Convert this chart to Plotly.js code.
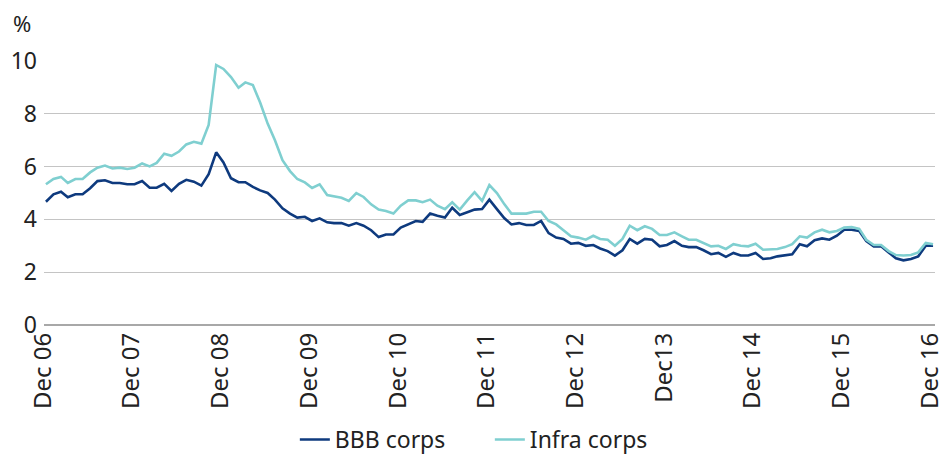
<!DOCTYPE html>
<html>
<head>
<meta charset="utf-8">
<script src="https://cdn.plot.ly/plotly-3.0.1.min.js"></script>
<style>html,body{margin:0;padding:0;background:#fff;}#chart{width:942px;height:461px;}</style>
</head>
<body>
<div id="chart"></div>
<script>
// Monthly values, Dec 2006 .. Dec 2016 (%)
var bbbCorps = [
  4.67,4.95,5.05,4.84,4.95,4.95,5.18,5.45,5.48,5.38,
  5.38,5.33,5.33,5.45,5.20,5.20,5.35,5.08,5.35,5.50,
  5.43,5.28,5.71,6.54,6.16,5.56,5.41,5.41,5.23,5.10,
  5.00,4.75,4.42,4.22,4.07,4.10,3.94,4.04,
  3.89,3.86,3.86,3.76,3.86,3.76,3.59,3.33,3.43,3.43,
  3.69,3.81,3.94,3.91,4.22,4.14,4.07,4.44,4.17,4.27,
  4.37,4.39,4.75,4.39,4.04,3.81,3.86,3.79,3.79,3.94,
  3.48,3.31,3.26,3.08,3.11,3.00,3.03,2.90,2.80,2.63,2.83,
  3.26,3.08,3.26,3.23,2.98,3.03,3.18,3.00,2.95,2.95,
  2.83,2.68,2.73,2.58,2.73,2.63,2.63,2.73,2.50,2.53,
  2.60,2.63,2.68,3.06,2.98,3.21,3.28,3.23,3.38,3.61,
  3.61,3.56,3.18,2.98,2.98,2.75,2.53,2.45,2.50,2.60,
  3.00,3.00
];
var infraCorps = [
  5.33,5.53,5.61,5.38,5.53,5.53,5.78,5.96,6.04,5.93,
  5.96,5.91,5.96,6.12,6.01,6.14,6.49,6.41,6.57,6.84,
  6.94,6.87,7.58,9.85,9.70,9.39,8.99,9.19,9.09,8.43,
  7.63,7.00,6.24,5.83,5.53,5.40,5.19,5.33,
  4.92,4.87,4.82,4.70,5.00,4.85,4.57,4.37,4.32,4.22,
  4.52,4.72,4.72,4.65,4.75,4.52,4.39,4.65,4.37,4.72,
  5.03,4.70,5.30,5.00,4.57,4.22,4.22,4.22,4.29,4.29,
  3.94,3.81,3.59,3.36,3.31,3.23,3.38,3.26,3.23,3.00,3.26,
  3.76,3.59,3.74,3.64,3.41,3.41,3.51,3.36,3.23,3.23,
  3.11,2.98,3.00,2.88,3.06,3.00,2.98,3.08,2.85,2.88,
  2.88,2.95,3.06,3.36,3.31,3.51,3.61,3.51,3.56,3.69,
  3.71,3.64,3.23,3.03,3.03,2.80,2.65,2.63,2.65,2.75,
  3.11,3.06
];
var tickDates = ['2006-12-01','2007-12-01','2008-12-01','2009-12-01','2010-12-01','2011-12-01','2012-12-01','2013-12-01','2014-12-01','2015-12-01','2016-12-01'];
var tickLabels = ['Dec 06','Dec 07','Dec 08','Dec 09','Dec 10','Dec 11','Dec 12','Dec13','Dec 14','Dec 15','Dec 16'];
var yTicks = [0,2,4,6,8,10];

var dates = [];
for (var i = 0; i < bbbCorps.length; i++) {
  var y = 2006 + Math.floor((11 + i) / 12);
  var m = (11 + i) % 12 + 1;
  dates.push(y + '-' + (m < 10 ? '0' + m : m) + '-01');
}

var traces = [
  {x: dates, y: bbbCorps, type: 'scatter', mode: 'lines', name: 'BBB corps',
   line: {color: '#0e3a7e', width: 2.6}},
  {x: dates, y: infraCorps, type: 'scatter', mode: 'lines', name: 'Infra corps',
   line: {color: '#7fcfd0', width: 2.6}}
];

var layout = {
  width: 942, height: 461,
  margin: {l: 44, r: 7, t: 61, b: 136},
  paper_bgcolor: '#ffffff', plot_bgcolor: '#ffffff',
  font: {family: '"Noto Sans", "Open Sans", sans-serif', size: 24, color: '#222'},
  showlegend: true,
  legend: {orientation: 'h', xref: 'container', x: 0.52, xanchor: 'center',
           yref: 'container', y: -0.012, yanchor: 'bottom',
           entrywidth: 150, entrywidthmode: 'pixels',
           font: {size: 23, color: '#222'}},
  xaxis: {type: 'date', range: ['2006-11-23', '2016-12-09'],
          tickmode: 'array', tickvals: tickDates, ticktext: tickLabels,
          tickangle: -90, showgrid: false, zeroline: false, showline: false,
          ticklabeloverflow: 'allow', ticklabelstandoff: 2, ticklabelshift: -3,
          ticks: '', tickfont: {size: 24, color: '#222'}, fixedrange: true},
  yaxis: {range: [0, 10], tickmode: 'array', tickvals: yTicks,
          showgrid: true, gridcolor: '#c4c4c4', gridwidth: 1.3,
          zeroline: true, zerolinecolor: '#a8a8a8', zerolinewidth: 1.3,
          showline: false, ticks: '', ticklabelstandoff: 6,
          tickfont: {size: 23, color: '#222'},
          fixedrange: true},
  annotations: [{text: '%', xref: 'paper', yref: 'paper', x: -0.012, y: 1.08,
                 xanchor: 'right', yanchor: 'bottom', showarrow: false,
                 font: {size: 22, color: '#222'}}]
};

Plotly.newPlot('chart', traces, layout, {displayModeBar: false, staticPlot: true});
</script>
</body>
</html>
